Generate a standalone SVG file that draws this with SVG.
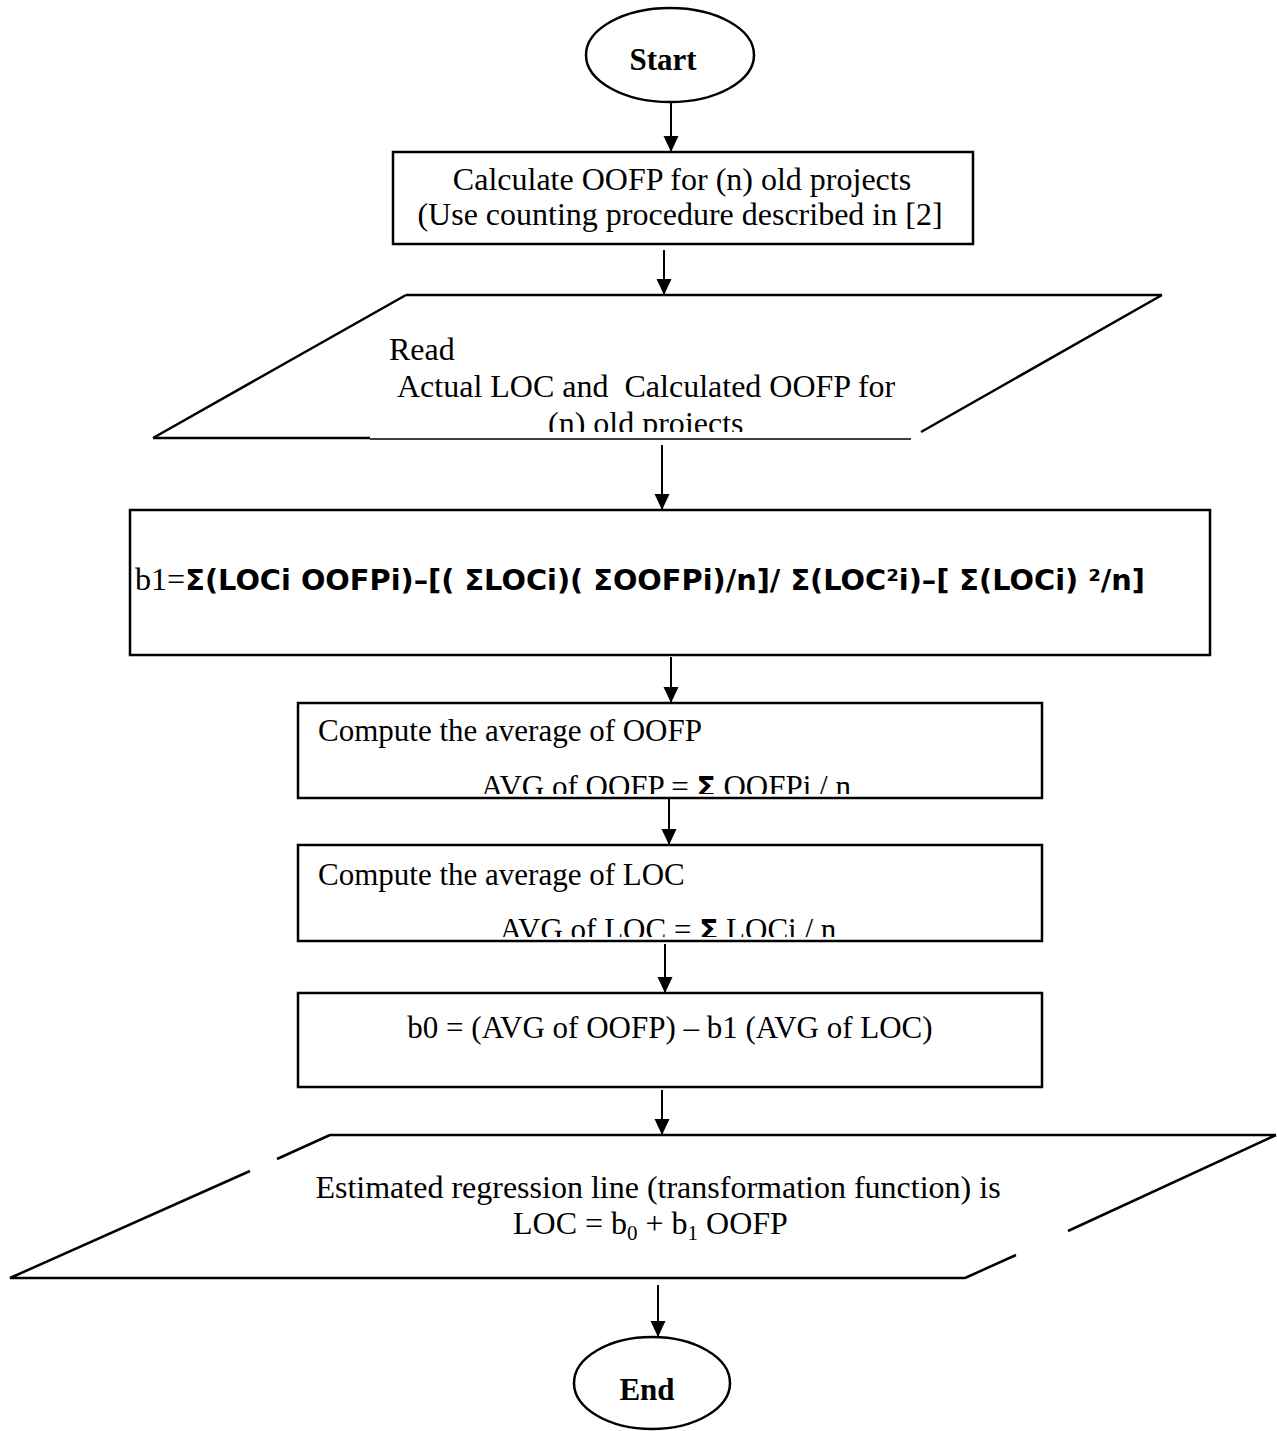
<svg xmlns="http://www.w3.org/2000/svg" width="1277" height="1431" viewBox="0 0 1277 1431">
  <style>
    .bg { fill: #ffffff; }
    .shape { fill: #ffffff; stroke: #000000; stroke-width: 2.5; }
    .edge { fill: none; stroke: #000000; stroke-width: 2.5; }
    .thin { fill: none; stroke: #000000; stroke-width: 1.5; }
    .conn { fill: none; stroke: #000000; stroke-width: 2; marker-end: url(#ah); }
    .t { font-family: "Liberation Serif", "Times New Roman", serif; font-size: 32px; fill: #000000; }
    .t31 { font-family: "Liberation Serif", "Times New Roman", serif; font-size: 31px; fill: #000000; }
    .tb { font-family: "Liberation Serif", "Times New Roman", serif; font-size: 31px; font-weight: bold; fill: #000000; }
    .sans { font-family: "DejaVu Sans", "Liberation Sans", sans-serif; font-weight: bold; }
  </style>
  <defs>
    <marker id="ah" markerUnits="userSpaceOnUse" markerWidth="16" markerHeight="16" viewBox="0 0 16 16" refX="16" refY="8" orient="auto">
      <path d="M0,0.5 L16,8 L0,15.5 z" fill="#000000"/>
    </marker>
    <clipPath id="clipRead"><rect x="0" y="0" width="1277" height="432"/></clipPath>
    <clipPath id="clipOofp"><rect x="0" y="0" width="1277" height="794"/></clipPath>
    <clipPath id="clipLoc"><rect x="0" y="0" width="1277" height="937"/></clipPath>
  </defs>
  <rect class="bg" x="0" y="0" width="1277" height="1431"/>

  <g id="connectors">
    <line class="conn" x1="671" y1="102" x2="671" y2="152"/>
    <line class="conn" x1="664" y1="250" x2="664" y2="295"/>
    <line class="conn" x1="662" y1="445" x2="662" y2="510"/>
    <line class="conn" x1="671" y1="657" x2="671" y2="703"/>
    <line class="conn" x1="669" y1="798" x2="669" y2="845"/>
    <line class="conn" x1="665" y1="944" x2="665" y2="993"/>
    <line class="conn" x1="662" y1="1090" x2="662" y2="1135"/>
    <line class="conn" x1="658" y1="1285" x2="658" y2="1337"/>
  </g>

  <g id="start">
    <ellipse class="shape" cx="670" cy="55" rx="84" ry="47"/>
    <text class="tb" x="663" y="70" text-anchor="middle">Start</text>
  </g>

  <g id="calc-oofp">
    <rect class="shape" x="393" y="152" width="580" height="92"/>
    <text class="t" x="682" y="190" text-anchor="middle">Calculate OOFP for (n) old projects</text>
    <text class="t" x="680" y="225" text-anchor="middle">(Use counting procedure described in [2]</text>
  </g>

  <g id="read-input">
    <path class="edge" d="M406,295 L1162,295 M406,295 L153,438 M1162,295 L921,432 M153,438 L370,438"/>
    <path class="thin" d="M370,439 L911,439"/>
    <text class="t" x="389" y="360">Read</text>
    <text class="t" x="397" y="397" xml:space="preserve">Actual LOC and  Calculated OOFP for</text>
    <text class="t" x="548" y="434" clip-path="url(#clipRead)">(n) old projects</text>
  </g>

  <g id="b1">
    <rect class="shape" x="130" y="510" width="1080" height="145"/>
    <text class="t" x="135" y="590" textLength="1010" lengthAdjust="spacingAndGlyphs">b1=<tspan class="sans" font-size="28.7">Σ(LOCi OOFPi)–[( ΣLOCi)( ΣOOFPi)/n]/ Σ(LOC²i)–[ Σ(LOCi) ²/n]</tspan></text>
  </g>

  <g id="avg-oofp">
    <rect class="shape" x="298" y="703" width="744" height="95"/>
    <text class="t31" x="318" y="741">Compute the average of OOFP</text>
    <text class="t31" x="666" y="797" text-anchor="middle" clip-path="url(#clipOofp)">AVG of OOFP = <tspan class="sans" font-size="28">Σ</tspan> OOFPi / n</text>
  </g>

  <g id="avg-loc">
    <rect class="shape" x="298" y="845" width="744" height="96"/>
    <text class="t31" x="318" y="885">Compute the average of LOC</text>
    <text class="t31" x="668" y="940" text-anchor="middle" clip-path="url(#clipLoc)">AVG of LOC = <tspan class="sans" font-size="28">Σ</tspan> LOCi / n</text>
  </g>

  <g id="b0">
    <rect class="shape" x="298" y="993" width="744" height="94"/>
    <text class="t31" x="670" y="1038" text-anchor="middle">b0 = (AVG of OOFP) – b1 (AVG of LOC)</text>
  </g>

  <g id="regression-output">
    <path class="edge" d="M330,1135 L1276,1135 M330,1135 L277,1159 M250,1171 L10,1278 L965,1278 M1276,1135 L1068,1231 M1016,1255 L965,1278"/>
    <text class="t" x="658" y="1198" text-anchor="middle">Estimated regression line (transformation function) is</text>
    <text class="t" x="513" y="1234">LOC = b<tspan font-size="21" dy="6">0</tspan><tspan dy="-6"> + b</tspan><tspan font-size="21" dy="6">1</tspan><tspan dy="-6"> OOFP</tspan></text>
  </g>

  <g id="end">
    <ellipse class="shape" cx="652" cy="1383" rx="78" ry="46"/>
    <text class="tb" x="647" y="1400" text-anchor="middle">End</text>
  </g>
</svg>
